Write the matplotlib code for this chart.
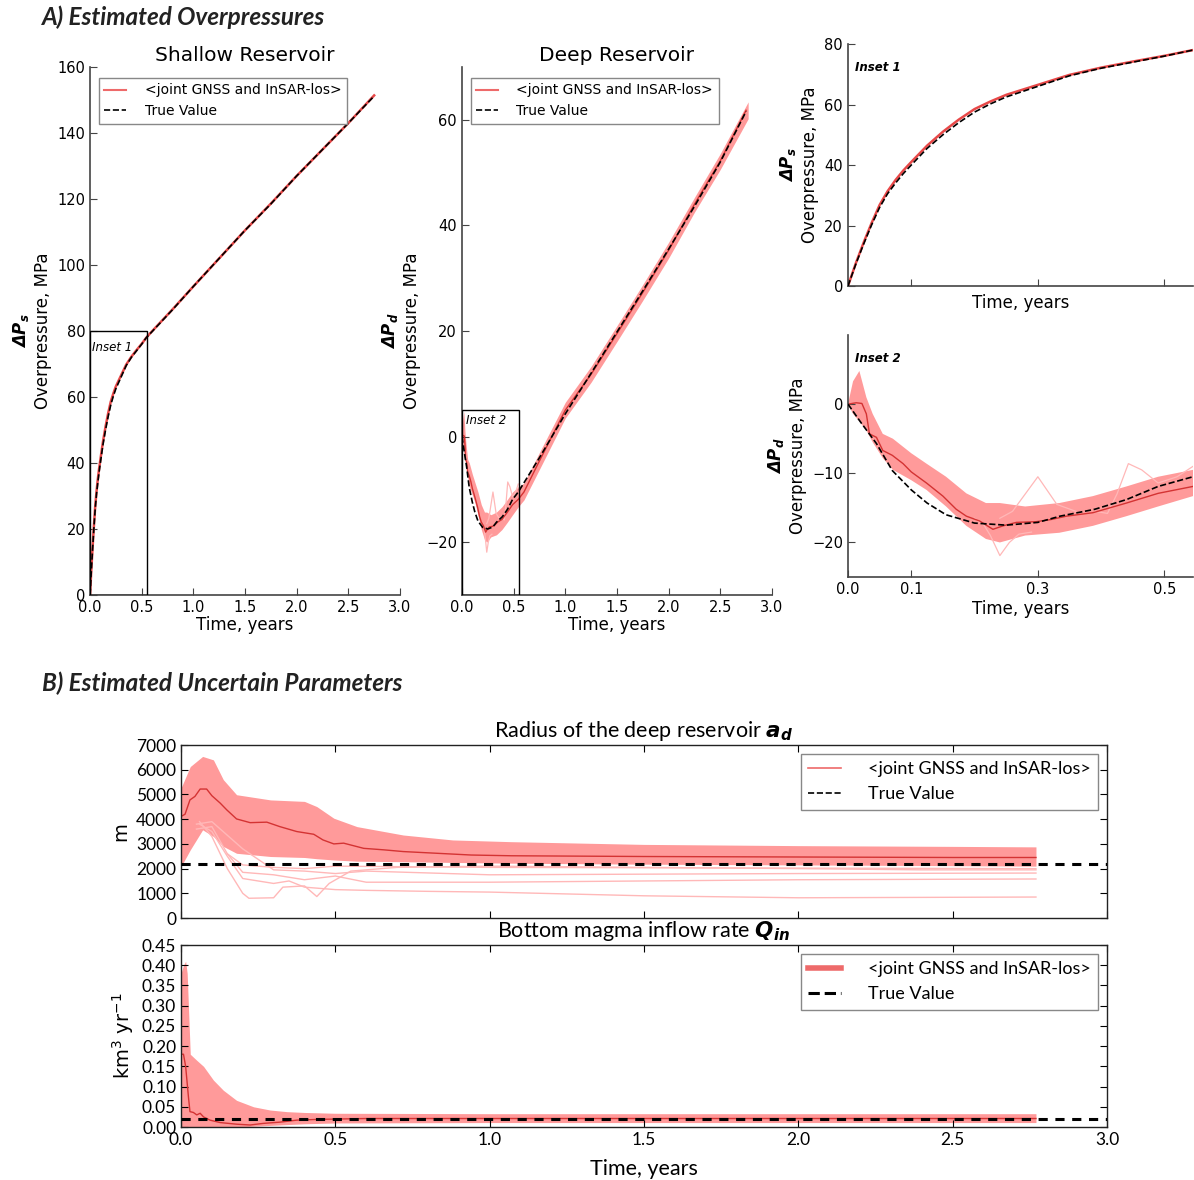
import numpy as np
import matplotlib
matplotlib.use('Agg')
from matplotlib import pyplot as plt
from matplotlib import font_manager
from matplotlib.patches import Rectangle
from matplotlib.lines import Line2D

# ---- data ----
# shallow reservoir overpressure (MPa)
t_sh = [0, 0.0125, 0.025, 0.0375, 0.05, 0.0625, 0.075, 0.0875, 0.1, 0.125, 0.15, 0.175,
        0.2, 0.225, 0.25, 0.3, 0.35, 0.4, 0.45, 0.5, 0.545,
        0.6, 0.8, 1.0, 1.25, 1.5, 1.75, 2.0, 2.25, 2.5, 2.75]
dps_true = [0, 7.3, 14, 20.3, 26, 30.5, 34, 37.2, 40, 45.5, 50, 54, 57.5, 60.2, 62.5,
            66, 69.5, 72, 74, 76, 78,
            79.8, 86.5, 93.5, 102, 110.5, 118.5, 127, 135, 143, 151.2]
dps_est = [0, 7.6, 14.5, 20.9, 26.8, 31.3, 35, 38.2, 41, 46.4, 51, 55, 58.5, 61, 63.2,
           66.5, 69.8, 72.2, 74.2, 76.1, 78,
           79.9, 86.6, 93.5, 102, 110.5, 118.6, 127, 135, 143, 151.4]

# deep reservoir overpressure (MPa)
t_dp_true = [0, 0.02, 0.045, 0.07, 0.1, 0.125, 0.155, 0.2, 0.25, 0.3, 0.335, 0.39, 0.44,
             0.49, 0.545, 0.75, 1.0, 1.25, 1.5, 1.75, 2.0, 2.25, 2.5, 2.75]
dpd_true = [0, -2.6, -5.7, -9.6, -12.4, -14.3, -16.0, -17.2, -17.5, -17.1, -16.2, -15.2, -13.8,
            -11.9, -10.5, -4.0, 4.3, 12.0, 19.8, 27.6, 35.5, 43.6, 52.0, 61.6]
t_dp_mean = [0, 0.013, 0.022, 0.029, 0.034, 0.045, 0.055, 0.07, 0.087, 0.1, 0.124, 0.15,
             0.171, 0.187, 0.208, 0.229, 0.245, 0.266, 0.297, 0.32, 0.345, 0.387, 0.44, 0.49,
             0.545, 0.6, 0.75, 1.0, 1.25, 1.5, 1.75, 2.0, 2.25, 2.5, 2.75]
dpd_mean = [0, 0.2, 0.1, -1.4, -4.3, -4.8, -6.7, -7.4, -8.6, -9.8, -11.4, -13.3,
            -15.2, -16.2, -16.9, -18.1, -17.6, -17.1, -17.0, -16.7, -16.2, -15.7, -14.3, -12.9,
            -11.9, -10.5, -4.6, 5.0, 11.8, 19.5, 27.3, 35.3, 44.0, 52.2, 61.8]
t_dp_band = [0, 0.008, 0.018, 0.029, 0.039, 0.055, 0.071, 0.1, 0.124, 0.155, 0.187, 0.218,
             0.24, 0.28, 0.334, 0.387, 0.44, 0.49, 0.545, 0.6, 0.75, 1.0, 1.25, 1.5, 1.75,
             2.0, 2.25, 2.5, 2.77]
dpd_hi = [0, 3.3, 4.8, 1.0, -1.4, -4.3, -5.0, -7.1, -8.6, -10.5, -12.9, -14.3,
          -14.3, -14.8, -14.3, -13.3, -11.9, -10.5, -9.5, -8.8, -3.0, 6.5, 13.3, 21.0, 28.8,
          36.8, 45.3, 53.6, 63.4]
dpd_lo = [0, -1.4, -2.5, -3.8, -5.5, -7.8, -9.5, -11.0, -12.4, -14.8, -17.6, -19.5,
          -20.0, -19.0, -18.6, -17.6, -16.2, -14.8, -13.3, -12.0, -6.2, 3.5, 10.3, 18.0, 25.8,
          33.8, 42.5, 50.6, 60.2]
# a few stray realisations outside the main band
dpd_out = [
    ([0.24, 0.26, 0.28, 0.3, 0.315, 0.33, 0.36], [-16.5, -15.5, -13, -10.5, -12.5, -14.5, -15.5]),
    ([0.2, 0.215, 0.225, 0.24, 0.255, 0.27, 0.29], [-16.5, -17.5, -19, -21.9, -20, -18.8, -18.5]),
    ([0.39, 0.41, 0.425, 0.443, 0.464, 0.49, 0.52, 0.545], [-15.5, -15.8, -13, -8.6, -9.5, -11.4, -10.5, -9.0]),
]

# radius of deep reservoir (m)
t_ad_mean = [0, 0.013, 0.029, 0.045, 0.062, 0.083, 0.1, 0.127, 0.148, 0.18, 0.224, 0.278,
             0.32, 0.375, 0.43, 0.46, 0.495, 0.527, 0.592, 0.657, 0.72, 0.83, 0.94, 1.07,
             1.5, 2.0, 2.5, 2.77]
ad_mean = [4110, 4200, 4780, 4920, 5220, 5220, 4950, 4650, 4380, 4010, 3860, 3880,
           3700, 3500, 3390, 3160, 3000, 3030, 2820, 2760, 2690, 2620, 2550, 2520,
           2490, 2470, 2450, 2450]
t_ad_band = [0, 0.03, 0.07, 0.105, 0.137, 0.18, 0.29, 0.4, 0.44, 0.495, 0.57, 0.72, 0.88,
             1.07, 1.5, 2.0, 2.5, 2.77]
ad_hi = [5260, 6130, 6540, 6400, 5600, 4990, 4780, 4720, 4510, 4040, 3700, 3360, 3160,
         3090, 2980, 2930, 2900, 2880]
ad_lo = [2080, 2760, 3570, 3300, 2900, 2620, 2490, 2450, 2400, 2350, 2300, 2280, 2250,
         2220, 2180, 2150, 2120, 2100]
ad_out = [
    ([0.06, 0.1, 0.15, 0.2, 0.22, 0.3, 0.33, 0.4, 0.44, 0.48, 0.55, 0.7, 1.0, 1.5, 2.0, 2.4, 2.77],
     [3900, 3300, 2000, 1000, 800, 820, 1250, 1300, 870, 1400, 1900, 2050, 2100, 2050, 2000, 1950, 1950]),
    ([0.06, 0.1, 0.15, 0.2, 0.3, 0.35, 0.4, 0.45, 0.5, 0.6, 0.8, 1.0, 1.5, 2.0, 2.77],
     [3800, 3500, 2500, 1600, 1400, 1500, 1250, 1200, 1150, 1120, 1080, 1050, 900, 820, 850]),
    ([0.05, 0.1, 0.15, 0.2, 0.3, 0.4, 0.5, 0.6, 1.0, 1.5, 2.0, 2.77],
     [3600, 3700, 2600, 1850, 1750, 1550, 1700, 1450, 1450, 1500, 1550, 1580]),
    ([0.05, 0.1, 0.2, 0.3, 0.4, 0.5, 0.6, 1.0, 2.0, 2.77],
     [3800, 3900, 2800, 1950, 1900, 1800, 1900, 1750, 1800, 1820]),
    ([0.15, 0.2, 0.3, 0.4, 0.5, 0.7, 1.0, 2.0, 2.77],
     [2600, 2150, 2050, 2000, 2100, 2080, 2050, 2020, 2000]),
]
ad_true = 2200

# bottom magma inflow rate (km3/yr)
t_q_mean = [0, 0.008, 0.015, 0.024, 0.029, 0.04, 0.051, 0.062, 0.073, 0.094, 0.127, 0.18,
            0.224, 0.267, 0.32, 0.375, 0.45, 0.6, 1.0, 2.0, 2.77]
q_mean = [0.18, 0.18, 0.15, 0.075, 0.038, 0.036, 0.03, 0.034, 0.025, 0.017, 0.011, 0.007,
          0.005, 0.009, 0.012, 0.017, 0.019, 0.021, 0.021, 0.021, 0.021]
t_q_band = [0, 0.008, 0.015, 0.02, 0.025, 0.03, 0.051, 0.073, 0.105, 0.137, 0.18, 0.235,
            0.289, 0.343, 0.4, 0.5, 1.0, 2.0, 2.77]
q_hi = [0.38, 0.40, 0.41, 0.38, 0.28, 0.18, 0.165, 0.15, 0.116, 0.091, 0.066, 0.05,
        0.042, 0.038, 0.036, 0.034, 0.033, 0.033, 0.033]
q_lo = [0, 0, 0, 0, 0, 0, 0, 0, 0, 0, 0, 0.002, 0.004, 0.006, 0.008, 0.01, 0.011, 0.011, 0.011]
q_true = 0.02

# ---- styling ----
band_c = '#ff9a9a'
stray_c = '#ffb8b8'
mean_c = '#d43333'
leg_c = '#ee6a6a'
spine_c = '#444444'
label = '<joint GNSS and InSAR-los>'

names = {f.name for f in font_manager.fontManager.ttflist}
cond = 'Lato' if 'Lato' in names else 'DejaVu Sans'
head = 'Lato' if 'Lato' in names else 'DejaVu Sans'

plt.rcParams['font.family'] = 'DejaVu Sans'
plt.rcParams['mathtext.fontset'] = 'dejavusans'

fig = plt.figure(figsize=(11.94, 11.8), dpi=100)


def style_a(ax):
    for s in ['top', 'right']:
        ax.spines[s].set_visible(False)
    for s in ['left', 'bottom']:
        ax.spines[s].set_color(spine_c)
        ax.spines[s].set_linewidth(1.2)
    ax.tick_params(direction='in', top=False, right=False, labelsize=10.5,
                   color=spine_c, length=5)


def leg_a(ax):
    h = [Line2D([], [], color=leg_c, lw=1.5), Line2D([], [], color='k', lw=1.2, ls='--')]
    lg = ax.legend(h, [label, 'True Value'], loc='upper left', fontsize=10,
                   fancybox=False, framealpha=1, borderaxespad=0.4, handlelength=1.6,
                   handletextpad=1.3, bbox_to_anchor=(0.01, 0.99))
    lg.get_frame().set_edgecolor('#888888')
    lg.get_frame().set_linewidth(1.0)


def deep_curves(ax, lw_mean=1.0):
    ax.fill_between(t_dp_band, dpd_lo, dpd_hi, color=band_c, lw=0, zorder=1)
    for tt, yy in dpd_out:
        ax.plot(tt, yy, color=stray_c, lw=0.9, zorder=1)
    ax.plot(t_dp_mean, dpd_mean, color=mean_c, lw=lw_mean, zorder=2)
    ax.plot(t_dp_true, dpd_true, color='k', lw=1.2, ls='--', zorder=3)


# A) shallow
ax1 = fig.add_axes([0.0754, 0.4958, 0.2596, 0.4474])
ax1.plot(t_sh, dps_est, color='#e84848', lw=1.8, zorder=2)
ax1.plot(t_sh, dps_true, color='k', lw=1.2, ls='--', zorder=3)
ax1.add_patch(Rectangle((0, 0), 0.55, 80, fill=False, ec='k', lw=1.0, zorder=4))
ax1.text(0.02, 77, 'Inset 1', fontsize=8.5, style='italic', va='top', ha='left')
ax1.set_xlim(0, 3)
ax1.set_ylim(0, 160)
ax1.set_xticks(np.arange(0, 3.01, 0.5))
ax1.set_yticks(np.arange(0, 161, 20))
ax1.set_title('Shallow Reservoir', fontsize=14.5, pad=4)
ax1.set_xlabel('Time, years', fontsize=12, labelpad=1)
ax1.set_ylabel(r'$\mathbfit{\Delta P_s}$' + '\nOverpressure, MPa', fontsize=12, labelpad=4)
style_a(ax1)
leg_a(ax1)

# A) deep
ax2 = fig.add_axes([0.3869, 0.4958, 0.2596, 0.4474])
deep_curves(ax2)
ax2.add_patch(Rectangle((0, -30), 0.55, 35, fill=False, ec='k', lw=1.0, zorder=4))
ax2.text(0.04, 4.2, 'Inset 2', fontsize=8.5, style='italic', va='top', ha='left')
ax2.set_xlim(0, 3)
ax2.set_ylim(-30, 70)
ax2.set_xticks(np.arange(0, 3.01, 0.5))
ax2.set_yticks([-20, 0, 20, 40, 60])
ax2.set_title('Deep Reservoir', fontsize=14.5, pad=4)
ax2.set_xlabel('Time, years', fontsize=12, labelpad=1)
ax2.set_ylabel(r'$\mathbfit{\Delta P_d}$' + '\nOverpressure, MPa', fontsize=12, labelpad=4)
style_a(ax2)
leg_a(ax2)

# A) inset 1
ax3 = fig.add_axes([0.7102, 0.7576, 0.2889, 0.2051])
ax3.plot(t_sh, dps_est, color='#e84848', lw=1.8, zorder=2)
ax3.plot(t_sh, dps_true, color='k', lw=1.2, ls='--', zorder=3)
ax3.set_xlim(0, 0.545)
ax3.set_ylim(0, 80)
ax3.set_xticks([0.0, 0.1, 0.3, 0.5])
ax3.set_xticklabels([])
ax3.set_yticks([0, 20, 40, 60, 80])
ax3.text(0.02, 0.93, 'Inset 1', transform=ax3.transAxes, fontsize=8.5,
         style='italic', weight='bold', va='top')
ax3.set_xlabel('Time, years', fontsize=12, labelpad=2)
ax3.set_ylabel(r'$\mathbfit{\Delta P_s}$' + '\nOverpressure, MPa', fontsize=12, labelpad=4)
style_a(ax3)

# A) inset 2
ax4 = fig.add_axes([0.7102, 0.5110, 0.2889, 0.2051])
deep_curves(ax4, lw_mean=1.0)
ax4.set_xlim(0, 0.545)
ax4.set_ylim(-25, 10)
ax4.set_xticks([0.0, 0.1, 0.3, 0.5])
ax4.set_xticklabels(['0.0', '0.1', '0.3', '0.5'])
ax4.set_yticks([-20, -10, 0])
ax4.text(0.02, 0.93, 'Inset 2', transform=ax4.transAxes, fontsize=8.5,
         style='italic', weight='bold', va='top')
ax4.set_xlabel('Time, years', fontsize=12, labelpad=2)
ax4.set_ylabel(r'$\mathbfit{\Delta P_d}$' + '\nOverpressure, MPa', fontsize=12, labelpad=4)
style_a(ax4)


def style_b(ax):
    for s in ax.spines.values():
        s.set_color('#222222')
        s.set_linewidth(1.0)
    ax.tick_params(direction='in', top=True, right=True, labelsize=12.5, length=5)
    for lab in ax.get_xticklabels() + ax.get_yticklabels():
        lab.set_family(cond)


def leg_b(ax, lw_red, lw_k):
    h = [Line2D([], [], color=leg_c, lw=lw_red), Line2D([], [], color='k', lw=lw_k, ls='--')]
    lg = ax.legend(h, [label, 'True Value'], loc='upper right', fancybox=False,
                   framealpha=1, prop={'family': cond, 'size': 13}, handlelength=1.8,
                   handletextpad=1.5, borderaxespad=0.5)
    lg.get_frame().set_edgecolor('#888888')


# B) radius
ax5 = fig.add_axes([0.1516, 0.2220, 0.7755, 0.1466])
ax5.fill_between(t_ad_band, ad_lo, ad_hi, color=band_c, lw=0, zorder=1)
for tt, yy in ad_out:
    ax5.plot(tt, yy, color=stray_c, lw=1.0, zorder=1)
ax5.plot(t_ad_mean, ad_mean, color=mean_c, lw=1.0, zorder=2)
ax5.axhline(ad_true, color='k', lw=2.2, ls=(0, (3, 2.5)), zorder=3)
ax5.set_xlim(0, 3)
ax5.set_ylim(0, 7000)
ax5.set_xticks(np.arange(0, 3.01, 0.5))
ax5.set_xticklabels([])
ax5.set_yticks(np.arange(0, 7001, 1000))
ax5.set_ylabel('m', fontsize=14)
ax5.set_title(r'Radius of the deep reservoir $\mathbfit{a_d}$', family=cond, fontsize=15.5, pad=6)
style_b(ax5)
leg_b(ax5, 1.2, 1.2)

# B) inflow
ax6 = fig.add_axes([0.1516, 0.0449, 0.7755, 0.1542])
ax6.fill_between(t_q_band, q_lo, q_hi, color=band_c, lw=0, zorder=1)
ax6.plot(t_q_mean, q_mean, color=mean_c, lw=1.0, zorder=2)
ax6.axhline(q_true, color='k', lw=2.2, ls=(0, (3, 2.5)), zorder=3)
ax6.set_xlim(0, 3)
ax6.set_ylim(0, 0.45)
ax6.set_xticks(np.arange(0, 3.01, 0.5))
ax6.set_yticks(np.arange(0, 0.451, 0.05))
ax6.set_yticklabels(['%.2f' % v for v in np.arange(0, 0.451, 0.05)])
ax6.set_ylabel(r'km$^3$ yr$^{-1}$', fontsize=14)
ax6.set_xlabel('Time, years', family=cond, fontsize=15.5, labelpad=8)
ax6.set_title(r'Bottom magma inflow rate $\mathbfit{Q_{in}}$', family=cond, fontsize=15.5, pad=6)
style_b(ax6)
leg_b(ax6, 4, 2.2)

fig.text(0.035, 0.985, 'A) Estimated Overpressures', family=head, style='italic',
         weight='bold', fontsize=17.5, va='center', color='#222222')
fig.text(0.035, 0.4205, 'B) Estimated Uncertain Parameters', family=head, style='italic',
         weight='bold', fontsize=17.5, va='center', color='#222222')

fig.savefig('out.png', dpi=100)
